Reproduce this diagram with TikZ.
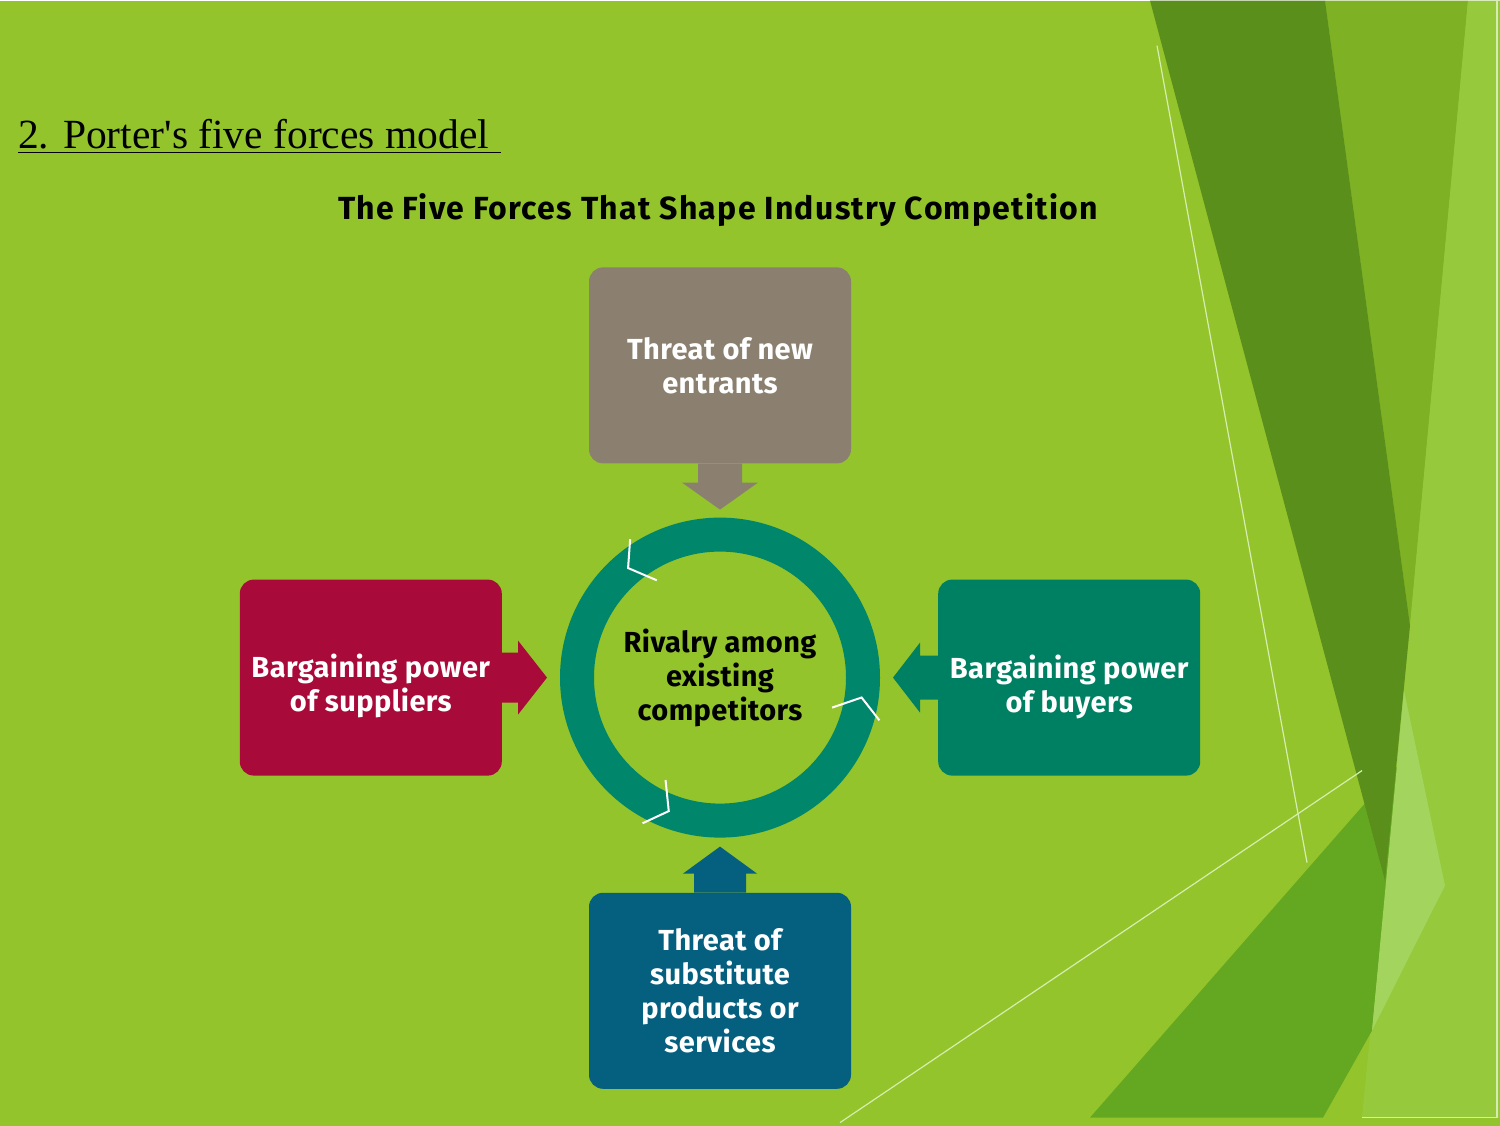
\documentclass[tikz,border=0pt]{standalone}
\usepackage{fontspec}
\setmainfont{Liberation Serif}
\newfontfamily\forcefont{Fira Sans}
\usepackage{xcolor}
\usepackage{tikz}
\usetikzlibrary{positioning,calc}
\definecolor{slideGreen}{HTML}{93C42B}
\definecolor{bandDark}{HTML}{5A8F1C}
\definecolor{bandMid}{HTML}{7EB123}
\definecolor{edgeLight}{HTML}{97C93C}
\definecolor{cornerGreen}{HTML}{64A821}
\definecolor{paleGreen}{HTML}{A3D45E}
\definecolor{hairGreen}{HTML}{D6EDB0}
\definecolor{entrantGray}{HTML}{8B8070}
\definecolor{supplierRed}{HTML}{A80A3A}
\definecolor{buyerTeal}{HTML}{008062}
\definecolor{substBlue}{HTML}{05607F}
\definecolor{ringTeal}{HTML}{00866A}

\begin{document}
\begin{tikzpicture}[x=1pt, y=-1pt,
    force/.style={rectangle, rounded corners=14pt, align=center, minimum width=262pt, minimum height=196pt, text=white, font=\forcefont\fontsize{29}{34}\selectfont\bfseries\addfontfeature{LetterSpace=1.5}},
    ring/.style={circle, draw=ringTeal, line width=34pt, minimum size=286pt, inner sep=0pt, align=center, font=\forcefont\fontsize{29}{34}\selectfont\bfseries\addfontfeature{LetterSpace=1.5}},
    chev/.style={draw=white, line width=2pt},
    hair/.style={draw=hairGreen, line width=1.2pt}
]

% Slide background
\fill[slideGreen] (0,0) rectangle (1500,1125);
\fill[bandMid] (1325,0) -- (1468,0) -- (1410,625) -- cycle;
\fill[edgeLight] (1468,0) -- (1500,0) -- (1500,1117) -- (1362,1117) -- (1410,625) -- cycle;
\fill[cornerGreen] (1090,1117) -- (1398,765) -- (1372,1030) -- (1323,1117) -- cycle;
\fill[bandDark] (1150,0) -- (1325,0) -- (1410,625) -- (1385,880) -- cycle;
\fill[paleGreen] (1404,690) -- (1445,885) -- (1372,1030) -- (1388,860) -- cycle;
\draw[hair] (1157,45) -- (1307,862);
\draw[hair] (840,1122) -- (1362,770);
\draw[hair] (1497,0) -- (1497,1117) -- (1362,1117);

% Titles
\node[anchor=base west, inner sep=0pt, font=\fontsize{41.5}{48}\selectfont] (title) at (18,148) {2. Porter\textquotesingle s five forces model\kern12pt};
\draw[line width=1.8pt] ([yshift=-4pt]title.base west) -- ([yshift=-4pt]title.base east);
\node[anchor=base, font=\forcefont\fontsize{32}{38}\selectfont\bfseries\addfontfeature{LetterSpace=4}] (subtitle) at (718,219) {The Five Forces That Shape Industry Competition};

% Nodes
\node[ring] (rival) at (720,677) {Rivalry among\\existing\\competitors};
\node[force, fill=entrantGray, above=54pt of rival] (entrants) {Threat of new\\entrants};
\node[force, fill=supplierRed, left=58pt of rival] (suppliers) {\\[6pt]Bargaining power\\of suppliers};
\node[force, fill=buyerTeal, right=58pt of rival] (buyers) {\\[9pt]Bargaining power\\of buyers};
\node[force, fill=substBlue, below=55pt of rival] (substitutes) {Threat of\\substitute\\products or\\services};

% Ring arrow heads
\foreach \a in {-130, 8, 111}
    \draw[chev, shift={(rival.center)}] (\a+7:165) -- (\a:143) -- (\a+7:116);

% Force arrows
\fill[entrantGray] ([xshift=-22pt]entrants.south) -- ++(0,19) -- ++(-16,0) -- ++(38,27) -- ++(38,-27) -- ++(-16,0) -- ++(0,-19) -- cycle;
\fill[supplierRed] ([yshift=25pt]suppliers.east) -- ++(16,0) -- ++(0,-12) -- ++(29,37) -- ++(-29,37) -- ++(0,-12) -- ++(-16,0) -- cycle;
\fill[buyerTeal] ([yshift=22pt]buyers.west) -- ++(-18,0) -- ++(0,-13) -- ++(-27,35) -- ++(27,35) -- ++(0,-13) -- ++(18,0) -- cycle;
\fill[substBlue] ([xshift=-26pt]substitutes.north) -- ++(0,-19) -- ++(-11,0) -- ++(37,-27) -- ++(37,27) -- ++(-11,0) -- ++(0,19) -- cycle;

\end{tikzpicture}
\end{document}
